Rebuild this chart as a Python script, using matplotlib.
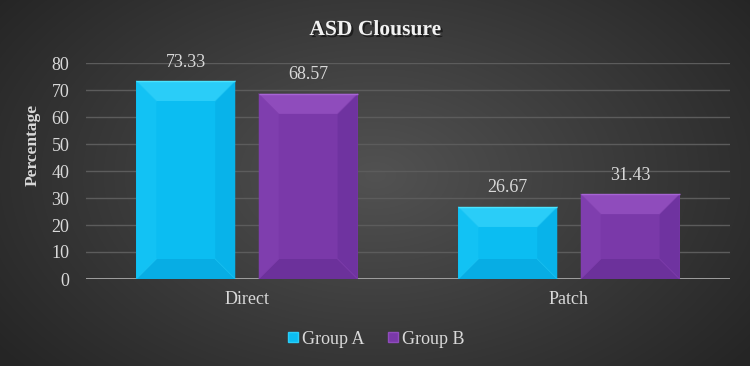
import numpy as np
import matplotlib
matplotlib.use("Agg")
import matplotlib.pyplot as plt
from matplotlib.patches import Polygon
from matplotlib.lines import Line2D
import matplotlib.patheffects as pe

categories = ["Direct", "Patch"]
series_names = ["Group A", "Group B"]
group_a = [73.33, 26.67]
group_b = [68.57, 31.43]
yticks = [0, 10, 20, 30, 40, 50, 60, 70, 80]

plt.rcParams['font.family'] = ['Liberation Serif', 'DejaVu Serif']
W, H = 750, 366
fig = plt.figure(figsize=(7.5, 3.66), dpi=100)

# background radial gradient
bg = fig.add_axes([0, 0, 1, 1], zorder=-10)
yy, xx = np.mgrid[0:H, 0:W]
r = np.sqrt(((xx - 375) / 470.0) ** 2 + ((yy - 175) / 300.0) ** 2)
v = (0x52 - (0x52 - 0x25) * np.clip(r, 0, 1)) / 255.0
bg.imshow(np.dstack([v, v, v]), aspect='auto', extent=[0, 1, 0, 1], origin='upper')
bg.axis('off')

ax = fig.add_axes([86 / W, (H - 279) / H, 644 / W, 216 / H])
ax.set_facecolor('none')
ax.set_xlim(-0.5, 1.5)
ax.set_ylim(0, 80)
ax.set_yticks(yticks)
ax.set_xticks(range(len(categories)))
ax.set_xticklabels(categories)
for s in ax.spines.values():
    s.set_visible(False)
ax.grid(axis='y', color='#5c5c5c', lw=1)
ax.set_axisbelow(True)
ax.axhline(0, color='#a8a8a8', lw=2, zorder=1)
ax.tick_params(axis='both', length=0, colors='#d9d9d9', labelsize=13)
ax.tick_params(axis='x', pad=9)
ax.tick_params(axis='y', pad=12)
ax.set_ylabel("Percentage", fontsize=12.5, fontweight='bold', color='#d9d9d9', labelpad=6)
ax.yaxis.set_label_coords(-0.071, 0.62)

fig.text(0.5, (H - 30) / H, "ASD Clousure", ha='center', va='center', fontsize=15.5,
         fontweight='bold', color='#f2f2f2',
         path_effects=[pe.withSimplePatchShadow(offset=(1.5, -1.5), shadow_rgbFace='black', alpha=0.5)])

width = 0.307
offset = 0.19
styles = [
    dict(main='#0bbdf2', top='#2acdf8', left='#12c2f4', right='#08b3ea', bottom='#07ade4', edge='#4ae4ff', diag='#24c9f6'),
    dict(main='#7a39a9', top='#8f4cbc', left='#7f3eae', right='#6f33a0', bottom='#6c319b', edge='#a664d4', diag='#8644b3'),
]

fig.canvas.draw()
inv = ax.transData.inverted()
p0 = inv.transform((0, 0))
p1 = inv.transform((20, 20))
bx, by = p1[0] - p0[0], p1[1] - p0[1]

def bevel_bar(xc, h, st):
    x0, x1 = xc - width / 2, xc + width / 2
    y0, y1 = 0, h
    b = min(bx, width / 2)
    bv = min(by, h / 2)
    ix0, ix1, iy0, iy1 = x0 + b, x1 - b, y0 + bv, y1 - bv
    ax.add_patch(Polygon([(x0, y0), (x1, y0), (x1, y1), (x0, y1)], closed=True, fc=st['main'], ec='none', zorder=2))
    ax.add_patch(Polygon([(x0, y1), (x1, y1), (ix1, iy1), (ix0, iy1)], closed=True, fc=st['top'], ec='none', zorder=3))
    ax.add_patch(Polygon([(x0, y0), (x0, y1), (ix0, iy1), (ix0, iy0)], closed=True, fc=st['left'], ec='none', zorder=3))
    ax.add_patch(Polygon([(x1, y0), (x1, y1), (ix1, iy1), (ix1, iy0)], closed=True, fc=st['right'], ec='none', zorder=3))
    ax.add_patch(Polygon([(x0, y0), (x1, y0), (ix1, iy0), (ix0, iy0)], closed=True, fc=st['bottom'], ec='none', zorder=3))
    for (a, c) in [((x0, y1), (ix0, iy1)), ((x1, y1), (ix1, iy1)), ((x0, y0), (ix0, iy0)), ((x1, y0), (ix1, iy0))]:
        ax.plot([a[0], c[0]], [a[1], c[1]], color=st['diag'], lw=0.6, alpha=0.6, zorder=4)
    ax.plot([x0, x1], [y1, y1], color=st['edge'], lw=1, zorder=4, solid_capstyle='butt')
    ax.annotate(f"{h:.2f}", (xc, h), xytext=(0, 19), textcoords='offset pixels',
                ha='center', va='center', fontsize=13, color='#d9d9d9')

for i, vals in enumerate([group_a, group_b]):
    for j, h in enumerate(vals):
        bevel_bar(j + (-offset if i == 0 else offset), h, styles[i])

handles = [Line2D([], [], marker='s', ls='none', markersize=6.5, markerfacecolor=st['main'],
                  markeredgecolor=st['top'], markeredgewidth=1) for st in styles]
leg = fig.legend(handles, series_names, loc='center', bbox_to_anchor=(0.5, (H - 339) / H), ncol=2,
                 frameon=False, fontsize=13, handletextpad=0.1, columnspacing=1.2, handlelength=0.8)
for t in leg.get_texts():
    t.set_color('#d9d9d9')

fig.savefig("out.png", dpi=100)
